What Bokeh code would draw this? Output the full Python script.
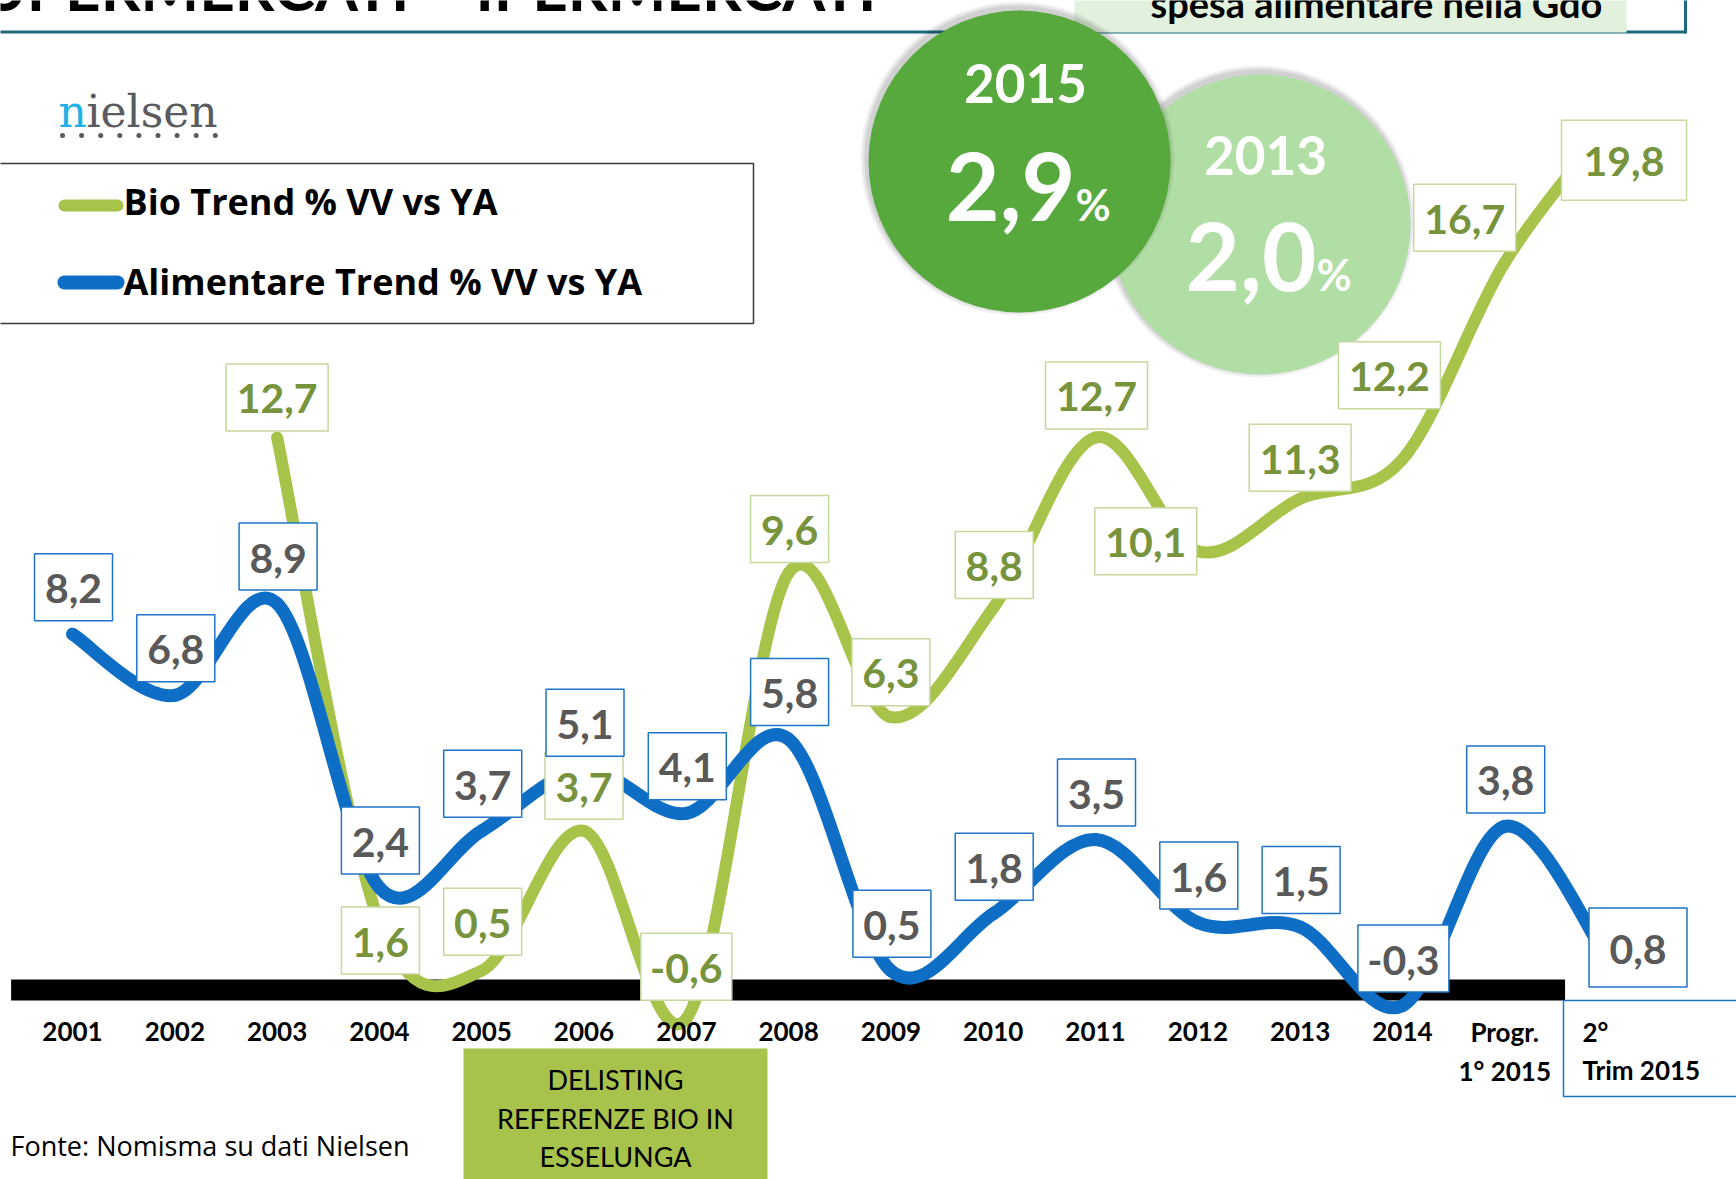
import numpy as np
from bokeh.plotting import figure
from bokeh.models import Range1d
from bokeh.core.properties import value
from bokeh.embed import file_html
from bokeh.resources import INLINE

# ---------------- data ----------------
categories = ["2001", "2002", "2003", "2004", "2005", "2006", "2007", "2008",
              "2009", "2010", "2011", "2012", "2013", "2014",
              "Progr.\n1° 2015", "2°\nTrim 2015"]
bio = [None, None, 12.7, 1.6, 0.5, 3.7, -0.6, 9.6, 6.3, 8.8, 12.7, 10.1,
       11.3, 12.2, 16.7, 19.8]
alimentare = [8.2, 6.8, 8.9, 2.4, 3.7, 5.1, 4.1, 5.8, 0.5, 1.8, 3.5, 1.6,
              1.5, -0.3, 3.8, 0.8]
series_names = ["Bio Trend % VV vs YA", "Alimentare Trend % VV vs YA"]
share_years = ["2015", "2013"]
share_values = [2.9, 2.0]
title_text = "SUPERMERCATI – IPERMERCATI"
banner_text = "spesa alimentare nella Gdo"
source_text = "Fonte: Nomisma su dati Nielsen"
note_lines = ["DELISTING", "REFERENZE BIO IN", "ESSELUNGA"]
logo_text = "nielsen"

# ---------------- layout ----------------
W, H, OFF = 1736, 1179, 0
X0, DX = 72.0, 102.3      # pixel of first category, pixel per category
Y0, DY = 992.0, 43.7      # pixel of value 0, pixel per unit

def fx(X):
    return (X - X0) / DX

def fy(Y):
    return (Y0 - Y) / DY

LATO = value("Lato")
SANS = value("Open Sans")
SERIF = value("DejaVu Serif")
# empirical shift (in em) between wanted cap-bottom and the rendered baseline
SHIFT = {"Lato": 0.33, "Open Sans": 0.38, "DejaVu Serif": 0.3}

GREEN = "#a8c34a"
BLUE = "#0e6ec5"
BOX_BLUE = "#1f74c8"
BOX_GREEN = "#c5d89d"
TXT_GRAY = "#595959"
TXT_OLIVE = "#77933c"

p = figure(width=W, height=H, output_backend="svg", toolbar_location=None,
           x_axis_type=None, y_axis_type=None,
           x_range=Range1d(fx(OFF), fx(OFF + W)),
           y_range=Range1d(fy(OFF + H), fy(OFF)),
           min_border=0, outline_line_color=None)
p.grid.visible = False
p.background_fill_color = "white"
p.border_fill_color = "white"

def ty_px(Y, size, font):
    """data y for a text whose cap bottom should sit at pixel row Y"""
    return fy(Y - SHIFT[font.value] * size)

def txt(X, Y, s, size, color="black", align="left", style="bold", font=LATO):
    p.text(x=[fx(X)], y=[ty_px(Y, size, font)], text=[s], text_font=font,
           text_font_size=f"{size}px", text_font_style=style, text_color=color,
           text_align=align, text_baseline="alphabetic")

# ---------------- header ----------------
txt(876, 7, title_text, 62, align="right")
p.line([fx(-10), fx(1685)], [fy(31.5), fy(31.5)], line_color="#1d6a7e", line_width=3)
p.line([fx(1685), fx(1685)], [fy(-5), fy(33)], line_color="#1d6a7e", line_width=3)
p.quad(left=[fx(1074)], right=[fx(1626)], top=[fy(-5)], bottom=[fy(32)],
       fill_color="#e2f1de", line_color=None)
txt(1150, 15, banner_text, 38)

# ---------------- nielsen logo ----------------
txt(58, 124, logo_text[0], 44, color="#1fb1e6", style="normal", font=SERIF)
txt(86, 124, logo_text[1:], 44, color="#5a5b5e", style="normal", font=SERIF)
p.scatter(x=[fx(62 + 19.1 * k) for k in range(9)], y=[fy(135)] * 9,
          size=5, marker="circle", fill_color="#5a5b5e", line_color=None)

# ---------------- legend ----------------
p.quad(left=[fx(-5)], right=[fx(753)], top=[fy(163)], bottom=[fy(323)],
       fill_color=None, line_color="#3a3a3a", line_width=1.5)
for name, col, yc, yb, lw in [(series_names[0], GREEN, 205, 215, 12),
                              (series_names[1], BLUE, 282, 295, 14)]:
    p.line([fx(64), fx(117)], [fy(yc), fy(yc)], line_color=col, line_width=lw,
           line_cap="round")
    txt(123, yb, name, 36, font=SANS)

# ---------------- share circles ----------------
circles = [  # (center X, center Y, diameter, colour)
    (1019, 161, 302, "#57a83d"),
    (1260, 224, 300, "#b1dea4"),
]
for (cx, cy, d, col) in [circles[1], circles[0]]:
    for k, a in enumerate([0.05, 0.06, 0.08]):
        p.scatter(x=[fx(cx - 2)], y=[fy(cy - 3)], size=d + 12 - 4 * k, marker="circle",
                  fill_color="black", fill_alpha=a, line_color=None)
    p.scatter(x=[fx(cx)], y=[fy(cy)], size=d, marker="circle",
              fill_color=col, line_color=None)

def fmt(v):
    return f"{v:.1f}".replace(".", ",")

# 2015 circle
txt(1025, 100, share_years[0], 53, color="white", align="center")
txt(1075, 217, fmt(share_values[0]), 93, color="white", align="right")
txt(1075, 218, "%", 43, color="white")
# 2013 circle
txt(1265, 172, share_years[1], 53, color="white", align="center")
txt(1316, 288, fmt(share_values[1]), 94, color="white", align="right")
txt(1316, 288, "%", 43, color="white")

# ---------------- baseline ----------------
n = len(categories)
p.line([-0.6, n - 2 + 0.59], [fy(989.5), fy(989.5)], line_color="black",
       line_width=21)

# ---------------- smoothed series (Excel-like cubic Bezier) ----------------
def bezier_parts(xs, ys):
    m = len(xs)
    out = {k: [] for k in ("x0", "y0", "x1", "y1", "cx0", "cy0", "cx1", "cy1")}
    for k in range(m - 1):
        km, kp = max(k - 1, 0), min(k + 2, m - 1)
        out["x0"].append(xs[k]); out["y0"].append(ys[k])
        out["x1"].append(xs[k + 1]); out["y1"].append(ys[k + 1])
        out["cx0"].append(xs[k] + (xs[k + 1] - xs[km]) / 6)
        out["cy0"].append(ys[k] + (ys[k + 1] - ys[km]) / 6)
        out["cx1"].append(xs[k + 1] - (xs[kp] - xs[k]) / 6)
        out["cy1"].append(ys[k + 1] - (ys[kp] - ys[k]) / 6)
    return out

bio_idx = [i for i, v in enumerate(bio) if v is not None]
bio_vals = [bio[i] for i in bio_idx]
p.bezier(**bezier_parts(bio_idx, bio_vals), line_color=GREEN, line_width=12,
         line_cap="round")
p.bezier(**bezier_parts(list(range(n)), alimentare), line_color=BLUE, line_width=13,
         line_cap="round")

# ---------------- data labels ----------------
LBL = 41
def box_w(s):
    if len(s) == 3:
        return 78
    return 91 if s.startswith("-") else 102

# blue labels sit above the point; last one beside it
blue_off = [(1, -47)] * (n - 1) + [(31, -10)]
bio_off = {2: (0, -40), 3: (1, 18), 4: (1, -49), 5: (0, -45), 6: (0, -52),
           7: (1, -44), 8: (0, -45), 9: (1, -43), 10: (1, -42), 11: (-52, -10),
           12: (0, -41), 13: (-13, -84), 14: (-40, -45), 15: (17, 33)}

def draw_labels(idx, vals, offs, border, color, last_size):
    bx, by, bw, bh, tx, tyy, tt = [], [], [], [], [], [], []
    for i, v in zip(idx, vals):
        dx, dy = offs[i]
        s = fmt(v)
        w, h = (box_w(s), 67) if i < n - 1 else last_size
        bx.append(i + dx / DX); by.append(v - dy / DY); bw.append(w); bh.append(h)
        tx.append(i + dx / DX)
        tyy.append(v - (dy + 15 - SHIFT["Lato"] * LBL) / DY)
        tt.append(s)
    p.rect(x=bx, y=by, width=bw, height=bh, width_units="screen",
           height_units="screen", fill_color="white", line_color=border,
           line_width=1.5)
    p.text(x=tx, y=tyy, text=tt, text_font=LATO, text_font_size=f"{LBL}px",
           text_font_style="bold", text_color=color, text_align="center",
           text_baseline="alphabetic")

draw_labels(bio_idx, bio_vals, bio_off, BOX_GREEN, TXT_OLIVE, (125, 80))
draw_labels(list(range(n)), alimentare, blue_off, BOX_BLUE, TXT_GRAY, (98, 79))

# ---------------- category labels ----------------
p.quad(left=[fx(1563)], right=[fx(1760)], top=[fy(1000)], bottom=[fy(1096)],
       fill_color="white", line_color=BOX_BLUE, line_width=1.5)
cx_, cy_, ct_ = [], [], []
for i, c in enumerate(categories[:-1]):
    for j, line in enumerate(c.split("\n")):
        cx_.append(i); cy_.append(ty_px(1040 + 39 * j, 26, LATO)); ct_.append(line)
p.text(x=cx_, y=cy_, text=ct_, text_font=LATO, text_font_size="26px",
       text_font_style="bold", text_color="black", text_align="center",
       text_baseline="alphabetic")
for j, line in enumerate(categories[-1].split("\n")):
    txt(1582, 1040 + 38 * j, line, 26)

# ---------------- note box & source ----------------
p.quad(left=[fx(463)], right=[fx(767)], top=[fy(1048)], bottom=[fy(1190)],
       fill_color="#a7c34c", line_color=None)
for j, line in enumerate(note_lines):
    txt(615, 1088 + 38.5 * j, line, 27, align="center", style="normal")
txt(10, 1155, source_text, 27, style="normal", font=SANS)

open("out.html", "w").write(file_html(p, INLINE))
